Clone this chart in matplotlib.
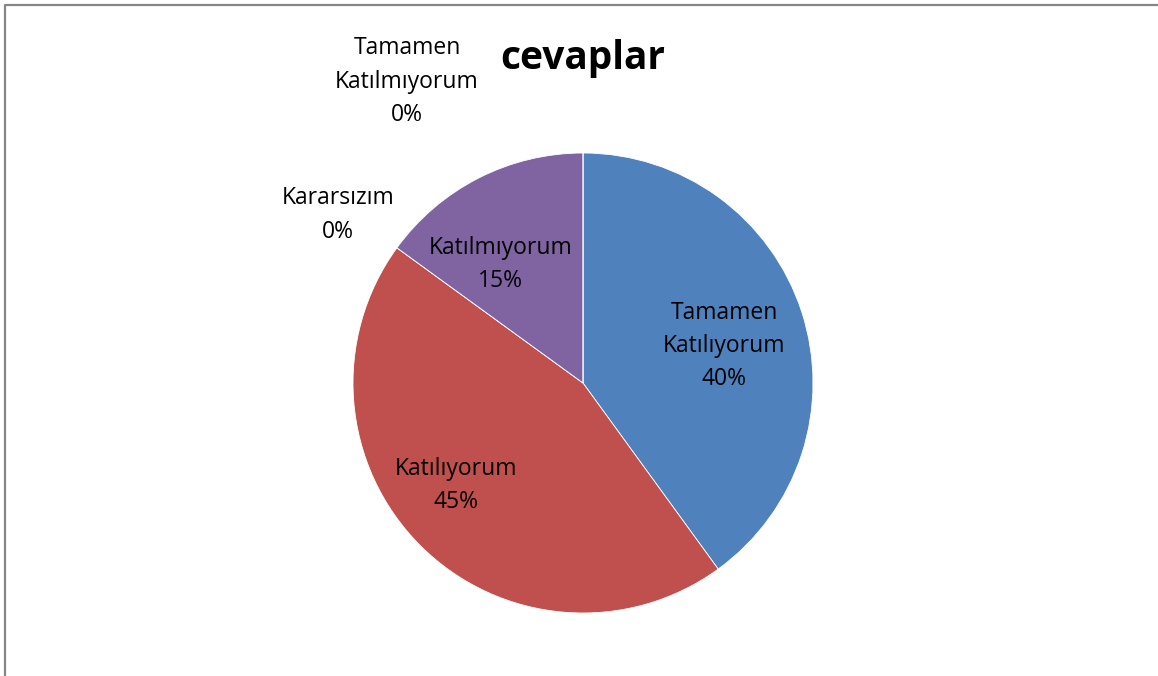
import matplotlib.pyplot as plt
from matplotlib.lines import Line2D
import numpy as np

plt.rcParams['font.family'] = ['Open Sans', 'DejaVu Sans']

categories = ["Tamamen\nKatılıyorum", "Katılıyorum", "Kararsızım",
              "Katılmıyorum", "Tamamen\nKatılmıyorum"]
values = [40, 45, 0, 15, 0]
colors = ["#4F81BD", "#C0504D", "#9BBB59", "#8064A2", "#4BACC6"]

# label placement: (distance from centre in radii, angle shift in degrees)
label_pos = [(0.64, -2), (0.70, -7), (1.30, 1), (0.64, 7), (1.53, 30)]

W, H = 1158, 676
R = 230.0
cx, cy = 583, 383

fig = plt.figure(figsize=(W / 100, H / 100), dpi=100)
ax = fig.add_axes([0, 0, 1, 1])

wedges, _ = ax.pie(values, colors=colors, startangle=90, counterclock=False,
                   radius=1, center=(0, 0), frame=True,
                   wedgeprops=dict(edgecolor="white", linewidth=0.6))
ax.set_xlim(-cx / R, (W - cx) / R)
ax.set_ylim(-(H - cy) / R, cy / R)
ax.axis("off")

total = sum(values)
for w, cat, v, (d, shift) in zip(wedges, categories, values, label_pos):
    mid = np.deg2rad((w.theta1 + w.theta2) / 2 + shift)
    ax.annotate(f"{cat}\n{v / total:.0%}", (d * np.cos(mid), d * np.sin(mid)),
                xytext=(0, -2.6), textcoords="offset points",
                ha="center", va="center", fontsize=16.5, linespacing=1.52,
                color="black")

ax.text(0, (cy - 58) / R, "cevaplar", ha="center", va="center",
        fontsize=28, fontweight="bold")

# chart area frame (only left and top edges fall inside the image)
px = lambda x: x / W
py = lambda y: 1 - y / H
fig.lines.append(Line2D([px(5), px(5), px(W + 5)], [py(H + 5), py(5), py(5)],
                        transform=fig.transFigure, color="#868686", lw=1.6))

fig.savefig("out.png", dpi=100)
